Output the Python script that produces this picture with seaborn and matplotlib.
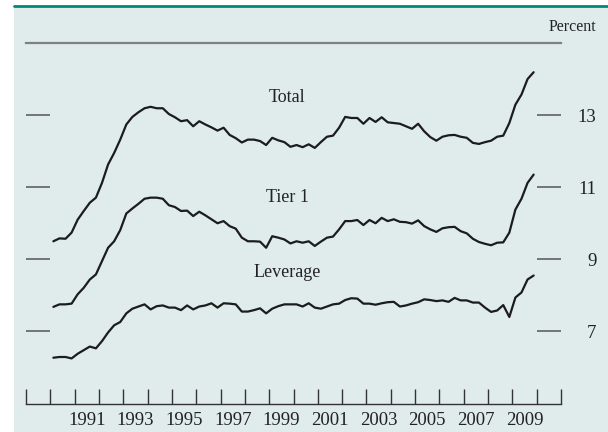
import numpy as np
import pandas as pd
import matplotlib
matplotlib.use("Agg")
import matplotlib.pyplot as plt
import seaborn as sns
from matplotlib.patches import Rectangle
from matplotlib.lines import Line2D

# ===============================
# DATA (quarterly, 1990Q1 - 2009Q4, percent)
# ===============================
quarters = pd.period_range("1990Q1", "2009Q4", freq="Q")

total = [9.50, 9.58, 9.57, 9.74, 10.10, 10.34, 10.57, 10.71, 11.12, 11.63,
         11.95, 12.32, 12.74, 12.95, 13.08, 13.19, 13.23, 13.19, 13.19, 13.03,
         12.94, 12.83, 12.86, 12.69, 12.83, 12.74, 12.66, 12.57, 12.65, 12.45,
         12.36, 12.24, 12.32, 12.32, 12.28, 12.17, 12.37, 12.30, 12.25, 12.12,
         12.17, 12.11, 12.19, 12.09, 12.25, 12.40, 12.43, 12.65, 12.95, 12.92,
         12.92, 12.76, 12.92, 12.81, 12.94, 12.80, 12.78, 12.76, 12.69, 12.62,
         12.76, 12.55, 12.39, 12.29, 12.40, 12.44, 12.45, 12.40, 12.37, 12.23,
         12.20, 12.25, 12.29, 12.40, 12.43, 12.78, 13.29, 13.57, 14.00, 14.19]

tier1 = [7.68, 7.75, 7.75, 7.77, 8.03, 8.21, 8.44, 8.58, 8.95, 9.32,
         9.50, 9.81, 10.27, 10.41, 10.54, 10.68, 10.71, 10.71, 10.68, 10.50,
         10.45, 10.34, 10.35, 10.20, 10.32, 10.22, 10.11, 10.00, 10.06, 9.92,
         9.85, 9.60, 9.50, 9.50, 9.49, 9.32, 9.64, 9.60, 9.55, 9.44,
         9.50, 9.46, 9.50, 9.37, 9.49, 9.60, 9.63, 9.83, 10.06, 10.06,
         10.09, 9.95, 10.09, 10.00, 10.15, 10.06, 10.11, 10.04, 10.03, 9.99,
         10.08, 9.92, 9.83, 9.76, 9.86, 9.89, 9.90, 9.78, 9.72, 9.57,
         9.48, 9.43, 9.39, 9.46, 9.47, 9.74, 10.38, 10.68, 11.12, 11.35]

leverage = [6.27, 6.29, 6.29, 6.25, 6.38, 6.48, 6.58, 6.53, 6.73, 6.97,
            7.17, 7.26, 7.50, 7.63, 7.69, 7.75, 7.61, 7.70, 7.72, 7.66,
            7.66, 7.59, 7.72, 7.61, 7.69, 7.72, 7.78, 7.66, 7.78, 7.77,
            7.75, 7.55, 7.55, 7.59, 7.64, 7.50, 7.63, 7.70, 7.75, 7.75,
            7.75, 7.69, 7.78, 7.66, 7.63, 7.69, 7.75, 7.77, 7.87, 7.92,
            7.91, 7.77, 7.77, 7.74, 7.78, 7.81, 7.82, 7.69, 7.72, 7.77,
            7.81, 7.89, 7.87, 7.84, 7.86, 7.82, 7.93, 7.86, 7.86, 7.80,
            7.80, 7.66, 7.54, 7.58, 7.73, 7.40, 7.94, 8.08, 8.44, 8.55]

series_names = ["Total", "Tier 1", "Leverage"]
label_pos = [(1999.75, 13.50), (1999.75, 10.71), (1999.75, 8.63)]
year_labels = [str(y) for y in range(1991, 2010, 2)]
y_ticks = [7, 9, 11, 13]

# mid-quarter position in fractional years
xq = quarters.year + (quarters.quarter - 0.5) / 4

df = pd.DataFrame({"x": np.tile(xq, 3),
                   "value": total + tier1 + leverage,
                   "series": np.repeat(series_names, len(xq))})

# ===============================
# STYLE
# ===============================
sns.set_style("white")
plt.rcParams["font.family"] = ["Liberation Serif", "DejaVu Serif"]

BG = "#dfeceb"
TEAL = "#00897b"
INK = "#1c1c1c"

fig = plt.figure(figsize=(6.08, 4.32), dpi=100)
fig.patches.append(Rectangle((14 / 608, 0), 1 - 14 / 608, 1 - 7 / 432,
                             transform=fig.transFigure, facecolor=BG,
                             edgecolor="none", zorder=-10))
fig.lines.append(Line2D([14 / 608, 1], [1 - 5.5 / 432] * 2,
                        transform=fig.transFigure, color=TEAL, lw=2.0,
                        zorder=-5))

ax = fig.add_axes([26 / 608, 1 - 403.5 / 432, 535 / 608, 360.5 / 432])
ax.set_facecolor("none")

# ===============================
# LINES
# ===============================
sns.lineplot(data=df, x="x", y="value", units="series", estimator=None,
             color=INK, linewidth=1.6, ax=ax, legend=False)

for name, (lx, ly) in zip(series_names, label_pos):
    ax.text(lx, ly, name, ha="center", va="center", fontsize=13, color="#222")

# ===============================
# AXES
# ===============================
ax.set_xlim(1989, 2011)
ax.set_ylim(5, 15)
ax.set_xlabel("")
ax.set_ylabel("")

ax.set_xticks(range(1989, 2012))
ax.set_xticks([int(y) + 0.5 for y in year_labels], minor=True)
ax.set_xticklabels([])
ax.set_xticklabels(year_labels, minor=True)
ax.tick_params(axis="x", which="major", direction="in", length=10.5, width=1,
               color="#333333", bottom=True)
ax.tick_params(axis="x", which="minor", length=0, pad=6, labelsize=13.5,
               labelcolor="#222")

ax.set_yticks(y_ticks)
ax.set_yticklabels([str(t) for t in y_ticks])
ax.tick_params(axis="y", direction="in", length=17, width=1.1,
               color="#555555", left=True, right=True,
               labelleft=False, labelright=True, pad=25.5,
               labelsize=13.5, labelcolor="#222")
for lab in ax.get_yticklabels():
    lab.set_horizontalalignment("right")

for side in ["left", "right"]:
    ax.spines[side].set_visible(False)
ax.spines["top"].set_color("#808080")
ax.spines["top"].set_linewidth(1.6)
ax.spines["bottom"].set_color("#333333")
ax.spines["bottom"].set_linewidth(1.0)

fig.text(596 / 608, 1 - 27 / 432, "Percent", ha="right", va="center",
         fontsize=11.5, color="#222")

plt.savefig("out.png", dpi=100)
plt.close()
